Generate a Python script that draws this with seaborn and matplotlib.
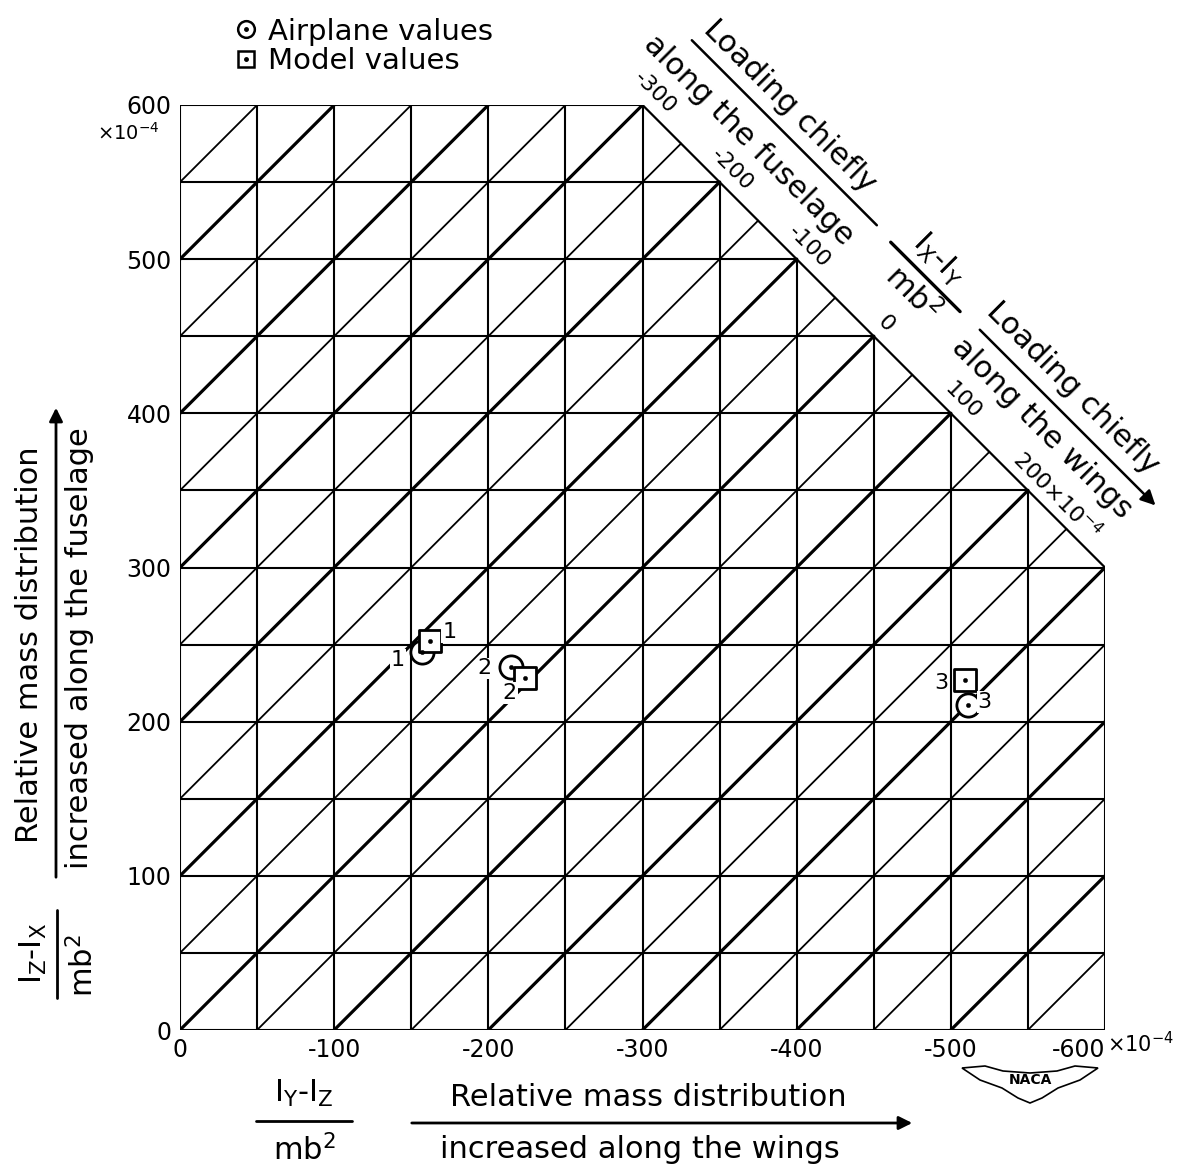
import matplotlib.pyplot as plt
import numpy as np
import seaborn as sns
from matplotlib.legend_handler import HandlerTuple
from matplotlib.lines import Line2D
from matplotlib.patches import Polygon

# (Iy-Iz)/mb^2 and (Iz-Ix)/mb^2, units of 1e-4
point_ids = ["1", "2", "3"]
airplane_x = [-156.8, -214.7, -511.1]
airplane_y = [245.4, 235.4, 210.8]
model_x = [-162.1, -223.8, -509.2]
model_y = [252.5, 228.3, 227.0]

x_ticks = [0, -100, -200, -300, -400, -500, -600]
y_ticks = [0, 100, 200, 300, 400, 500, 600]
# (Ix-Iy)/mb^2 values written along the cut-off edge
diag_ticks = [-300, -200, -100, 0, 100, 200]

GRID_STEP = 50
LIMIT = 600
CUT = 900  # |x| + y <= CUT

W, H = 1193, 1171


def diag_xy(s, d):
    """Data point from s = |x| + y and d = |x| - y."""
    return -(s + d) / 2, (s - d) / 2


def fig_xy(px, py):
    return px / W, 1 - py / H


sns.set_style("white")
plt.rcParams["font.family"] = ["DejaVu Sans"]
plt.rcParams["axes.unicode_minus"] = False
plt.rcParams["text.color"] = "black"
plt.rcParams["xtick.color"] = "black"
plt.rcParams["ytick.color"] = "black"

fig = plt.figure(figsize=(W / 100, H / 100), dpi=100)
ax = fig.add_axes([180 / W, 141 / H, 925 / W, 925 / H])
ax.set_xlim(0, -LIMIT)
ax.set_ylim(0, LIMIT)
for side in ax.spines.values():
    side.set_visible(False)

# rectangular grid, cut off along |x| + y = CUT
steps = np.arange(0, LIMIT + 1, GRID_STEP)
for v in steps:
    top = min(LIMIT, CUT - v)
    ax.plot([-v, -v], [0, top], color="black", lw=1.5, solid_capstyle="projecting")
    ax.plot([0, -top], [v, v], color="black", lw=1.5, solid_capstyle="projecting")
ax.plot([-(CUT - LIMIT), -LIMIT], [LIMIT, CUT - LIMIT], color="black", lw=1.6)

# diagonals of constant (Ix-Iy)/mb^2
for c in np.arange(-LIMIT, LIMIT + 1, GRID_STEP):
    x0 = max(0, c)
    x1 = min(LIMIT, LIMIT + c, (CUT + c) / 2)
    if x1 <= x0:
        continue
    lw = 2.3 if c % 100 == 0 else 1.3
    ax.plot([-x0, -x1], [x0 - c, x1 - c], color="black", lw=lw)

# points
sns.scatterplot(x=airplane_x, y=airplane_y, ax=ax, marker="o", s=280,
                facecolor="white", edgecolor="black", linewidth=2.0, zorder=5)
sns.scatterplot(x=model_x, y=model_y, ax=ax, marker="s", s=230,
                facecolor="white", edgecolor="black", linewidth=2.0, zorder=5)
sns.scatterplot(x=airplane_x + model_x, y=airplane_y + model_y, ax=ax,
                marker="o", s=10, color="black", edgecolor="black", zorder=6)

airplane_offsets = [(-17, -6), (-19, -1), (12, 2)]
model_offsets = [(14, 6), (-11, -11), (-17, -2)]
for pid, x, y, off in zip(point_ids, airplane_x, airplane_y, airplane_offsets):
    ax.annotate(pid, (x, y), xytext=off, textcoords="offset points", fontsize=16,
                ha="center", va="center", zorder=7,
                bbox=dict(fc="white", ec="none", pad=0.6))
for pid, x, y, off in zip(point_ids, model_x, model_y, model_offsets):
    ax.annotate(pid, (x, y), xytext=off, textcoords="offset points", fontsize=16,
                ha="center", va="center", zorder=7,
                bbox=dict(fc="white", ec="none", pad=0.6))

# axis ticks
ax.set_xticks(x_ticks)
ax.set_xticklabels([f"{v}" for v in x_ticks], fontsize=17)
ax.get_xticklabels()[-1].set_horizontalalignment("right")
ax.set_yticks(y_ticks)
ax.set_yticklabels([f"{v}" for v in y_ticks], fontsize=17)
ax.tick_params(length=0, pad=6)
fig.text(*fig_xy(1107, 1044), "×10$^{-4}$", fontsize=15, ha="left", va="center")
fig.text(*fig_xy(128, 133), "×10$^{-4}$", fontsize=14, ha="center", va="center")

# labels along the cut-off edge
for v in diag_ticks:
    d = v + 22 if v == diag_ticks[-1] else v
    txt = f"{v}×10$^{{-4}}$" if v == diag_ticks[-1] else f"{v}"
    ax.text(*diag_xy(916, d), txt, fontsize=16, rotation=-45,
            rotation_mode="anchor", ha="center", va="center", clip_on=False)

diag_kw = dict(fontsize=22, rotation=-45, rotation_mode="anchor",
               ha="center", va="center", clip_on=False)
ax.text(*diag_xy(995, -204), "Loading chiefly", **diag_kw)
ax.text(*diag_xy(946, -208), "along the fuselage", **diag_kw)
ax.text(*diag_xy(995, 163), "Loading chiefly", **diag_kw)
ax.text(*diag_xy(949, 169), "along the wings", **diag_kw)
ax.text(*diag_xy(992, -8), "I$_\\mathrm{X}$-I$_\\mathrm{Y}$", **diag_kw)
ax.text(*diag_xy(953, -3), "mb$^2$", **diag_kw)

sx, sy = zip(diag_xy(974, -310), diag_xy(974, -70))
ax.plot(sx, sy, color="black", lw=1.8, clip_on=False)
sx, sy = zip(diag_xy(972, -50), diag_xy(972, 40))
ax.plot(sx, sy, color="black", lw=2.4, clip_on=False)
ax.annotate("", xy=diag_xy(973, 295), xytext=diag_xy(973, 62),
            arrowprops=dict(arrowstyle="-|>", color="black", lw=1.8,
                            mutation_scale=22), annotation_clip=False)

# bottom axis title
fig.text(*fig_xy(304, 1093), "I$_\\mathrm{Y}$-I$_\\mathrm{Z}$", fontsize=22,
         ha="center", va="center")
fig.add_artist(Line2D([256 / W, 352 / W], [1 - 1121 / H] * 2, color="black", lw=2))
fig.text(*fig_xy(304, 1150), "mb$^2$", fontsize=22, ha="center", va="center")
fig.text(*fig_xy(648, 1097), "Relative mass distribution", fontsize=22,
         ha="center", va="center")
fig.text(*fig_xy(640, 1150), "increased along the wings", fontsize=22,
         ha="center", va="center")
fig.add_artist(plt.Annotation("", xy=fig_xy(915, 1123), xytext=fig_xy(409, 1123),
                              xycoords="figure fraction",
                              arrowprops=dict(arrowstyle="-|>", color="black",
                                              lw=2, mutation_scale=20)))

# left axis title
fig.text(*fig_xy(33, 953), "I$_\\mathrm{Z}$-I$_\\mathrm{X}$", fontsize=22,
         ha="center", va="center", rotation=90)
fig.add_artist(Line2D([57 / W] * 2, [1 - 910 / H, 1 - 998 / H], color="black", lw=2))
fig.text(*fig_xy(83, 966), "mb$^2$", fontsize=22, ha="center", va="center",
         rotation=90)
fig.text(*fig_xy(30, 645), "Relative mass distribution", fontsize=22,
         ha="center", va="center", rotation=90)
fig.text(*fig_xy(80, 648), "increased along the fuselage", fontsize=22,
         ha="center", va="center", rotation=90)
fig.add_artist(plt.Annotation("", xy=fig_xy(56, 405), xytext=fig_xy(56, 880),
                              xycoords="figure fraction",
                              arrowprops=dict(arrowstyle="-|>", color="black",
                                              lw=2, mutation_scale=20)))

# legend
circle = Line2D([], [], marker="o", ls="none", ms=12, mfc="white", mec="black", mew=1.8)
square = Line2D([], [], marker="s", ls="none", ms=11, mfc="white", mec="black", mew=1.8)
dot = Line2D([], [], marker="o", ls="none", ms=2.5, color="black")
fig.legend([(circle, dot), (square, dot)], ["Airplane values", "Model values"],
           handler_map={tuple: HandlerTuple(ndivide=1)},
           loc="upper left", bbox_to_anchor=fig_xy(215, 0), frameon=False,
           fontsize=21, handlelength=0.9, handletextpad=0.3, labelspacing=0.05,
           borderpad=0.1)

# NACA badge
wing_px = [(962, 1068), (985, 1066), (1003, 1071), (1030, 1073), (1057, 1071),
           (1075, 1066), (1098, 1068), (1080, 1080), (1058, 1088), (1042, 1098),
           (1030, 1103), (1018, 1098), (1002, 1088), (980, 1080)]
fig.add_artist(Polygon([fig_xy(px, py) for px, py in wing_px], closed=True,
                       transform=fig.transFigure, fc="white", ec="black", lw=1.2))
fig.text(*fig_xy(1030, 1080), "NACA", fontsize=10, fontweight="bold",
         ha="center", va="center")

fig.savefig("out.png", dpi=100)
